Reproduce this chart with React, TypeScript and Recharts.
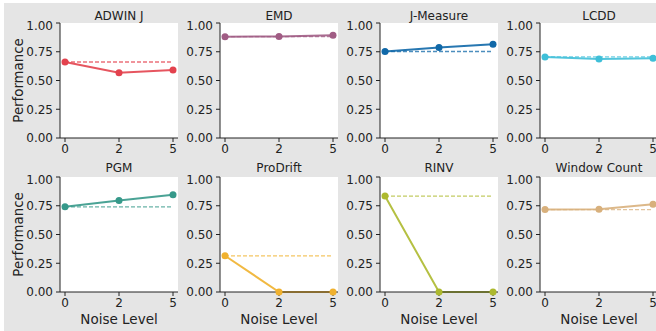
import React from 'react';
import { LineChart, Line, XAxis, YAxis, ReferenceLine } from 'recharts';

// noise levels on the x axis
const noiseLevels = ['0', '2', '5'];
const yTicks = [0, 0.25, 0.5, 0.75, 1];

const methods = ['ADWIN J', 'EMD', 'J-Measure', 'LCDD', 'PGM', 'ProDrift', 'RINV', 'Window Count'];

// performance per method at noise 0, 2, 5
const adwinJ = [0.661, 0.568, 0.592];
const emd = [0.881, 0.882, 0.893];
const jMeasure = [0.752, 0.786, 0.816];
const lcdd = [0.705, 0.688, 0.693];
const pgm = [0.741, 0.796, 0.845];
const proDrift = [0.315, 0, 0];
const rinv = [0.834, 0, 0];
const windowCount = [0.717, 0.719, 0.762];

const seriesValues = [adwinJ, emd, jMeasure, lcdd, pgm, proDrift, rinv, windowCount];
const colors = ['#e3424e', '#a05c84', '#1068a8', '#3fbfd8', '#36998a', '#f0b12e', '#adb92e', '#d8b07c'];

const FONT = '"DejaVu Sans", sans-serif';
const PLOT_W = 118;
const PLOT_H = 115;
const colLefts = [60, 220, 380, 540];
const rowTops = [23, 177];

interface PanelProps {
  title: string;
  values: number[];
  color: string;
  left: number;
  top: number;
}

const Panel: React.FC<PanelProps> = ({ values, color, left, top }) => {
  const data = noiseLevels.map((n, i) => ({ noise: n, value: values[i] }));
  const base = values[0];

  return (
    <>
      <div
        style={{ position: 'absolute', left, top, width: PLOT_W, height: PLOT_H, background: '#ffffff' }}
      />
      <div style={{ position: 'absolute', left: left - 45, top: top - 5 }}>
        <LineChart width={45 + PLOT_W + 6} height={PLOT_H + 25} data={data} margin={{ top: 5, right: 6, left: 0, bottom: 0 }}>
          <XAxis
            dataKey="noise"
            padding={{ left: 5, right: 5 }}
            height={20}
            interval={0}
            tickSize={4}
            tickMargin={2}
            stroke="#222"
            tick={{ fill: '#222', fontSize: 12, fontFamily: FONT }}
          />
          <YAxis
            domain={[0, 1]}
            ticks={yTicks}
            width={45}
            tickSize={4}
            tickMargin={3}
            stroke="#222"
            tickFormatter={(v: number) => v.toFixed(2)}
            tick={{ fill: '#222', fontSize: 12, fontFamily: FONT }}
          />
          <ReferenceLine
            segment={[{ x: noiseLevels[0], y: base }, { x: noiseLevels[noiseLevels.length - 1], y: base }]}
            stroke={color}
            strokeOpacity={0.75}
            strokeWidth={1.3}
            strokeDasharray="4 2"
            ifOverflow="visible"
          />
          <Line
            type="linear"
            dataKey="value"
            stroke={color}
            strokeOpacity={0.9}
            strokeWidth={2}
            dot={{ r: 3.5, fill: color, stroke: color, strokeWidth: 0, fillOpacity: 1 }}
            activeDot={false}
            isAnimationActive={false}
          />
        </LineChart>
      </div>
    </>
  );
};

export default function App() {
  return (
    <div
      style={{
        position: 'fixed',
        left: 0,
        top: 0,
        width: 656,
        height: 331,
        overflow: 'hidden',
        background: '#ffffff',
        fontFamily: FONT,
      }}
    >
      <div style={{ position: 'absolute', left: 4, top: 3, width: 652, height: 328, background: '#e5e5e5' }} />
      <svg width={656} height={331} style={{ position: 'absolute', left: 0, top: 0 }}>
        {methods.map((m, i) => {
          const cx = colLefts[i % 4] + PLOT_W / 2;
          const baseline = i < 4 ? 20 : 172;
          return (
            <text key={m} x={cx} y={baseline} textAnchor="middle" fontSize={12} fontFamily={FONT} fill="#222">
              {m}
            </text>
          );
        })}
        {rowTops.map((t) => (
          <text
            key={t}
            x={23}
            y={t + PLOT_H / 2}
            transform={`rotate(-90, 23, ${t + PLOT_H / 2})`}
            textAnchor="middle"
            fontSize={13.3}
            fontFamily={FONT}
            fill="#222"
          >
            Performance
          </text>
        ))}
        {colLefts.map((l) => (
          <text key={l} x={l + PLOT_W / 2} y={323.5} textAnchor="middle" fontSize={13.5} fontFamily={FONT} fill="#222">
            Noise Level
          </text>
        ))}
      </svg>
      {methods.map((m, i) => (
        <Panel
          key={m}
          title={m}
          values={seriesValues[i]}
          color={colors[i]}
          left={colLefts[i % 4]}
          top={rowTops[Math.floor(i / 4)]}
        />
      ))}
    </div>
  );
}
